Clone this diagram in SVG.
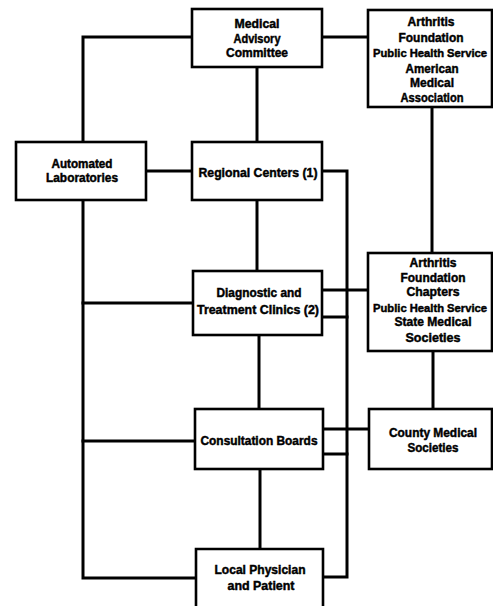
<svg xmlns="http://www.w3.org/2000/svg" width="493" height="606" viewBox="0 0 493 606">
<style>
.box{fill:#fff;stroke:#000;stroke-width:2.6}
.ln{fill:none;stroke:#000;stroke-width:3;stroke-linejoin:miter;stroke-linecap:square}
text{font-family:"Liberation Sans",Arial,sans-serif;font-weight:bold;font-size:12.5px;fill:#000;stroke:#000;stroke-width:0.45;text-anchor:middle}
text.w{font-size:11.4px}
</style>
<rect width="493" height="606" fill="#fff"/>
<g id="connectors">
<polyline class="ln" points="83,142 83,37 192,37"/>
<line class="ln" x1="322" y1="37" x2="368" y2="37"/>
<line class="ln" x1="257" y1="67" x2="257" y2="142"/>
<line class="ln" x1="146" y1="171" x2="192" y2="171"/>
<polyline class="ln" points="322,171 347,171 347,577 323,577"/>
<line class="ln" x1="432" y1="107" x2="432" y2="253"/>
<line class="ln" x1="257" y1="200" x2="257" y2="271"/>
<polyline class="ln" points="83,200 83,578 196,578"/>
<line class="ln" x1="83" y1="303" x2="193" y2="303"/>
<line class="ln" x1="83" y1="441" x2="195" y2="441"/>
<line class="ln" x1="322" y1="290" x2="368" y2="290"/>
<line class="ln" x1="322" y1="317" x2="347" y2="317"/>
<line class="ln" x1="259" y1="335" x2="259" y2="409"/>
<line class="ln" x1="433" y1="351" x2="433" y2="409"/>
<line class="ln" x1="323" y1="429" x2="369" y2="429"/>
<line class="ln" x1="323" y1="454" x2="347" y2="454"/>
<line class="ln" x1="260" y1="469" x2="260" y2="549"/>
</g>
<g id="mac">
<rect class="box" x="192" y="9" width="130" height="58"/>
<text x="257" y="28" textLength="45" lengthAdjust="spacingAndGlyphs">Medical</text>
<text x="257" y="43" textLength="47" lengthAdjust="spacingAndGlyphs">Advisory</text>
<text x="257" y="57" textLength="62" lengthAdjust="spacingAndGlyphs">Committee</text>
</g>
<g id="national">
<rect class="box" x="368" y="10" width="124" height="97"/>
<text x="431" y="26" textLength="47" lengthAdjust="spacingAndGlyphs">Arthritis</text>
<text x="431" y="42" textLength="65" lengthAdjust="spacingAndGlyphs">Foundation</text>
<text class="w" x="430" y="57" textLength="114" lengthAdjust="spacingAndGlyphs">Public Health Service</text>
<text x="432" y="73" textLength="53" lengthAdjust="spacingAndGlyphs">American</text>
<text x="432" y="87" textLength="44" lengthAdjust="spacingAndGlyphs">Medical</text>
<text x="432" y="102" textLength="63" lengthAdjust="spacingAndGlyphs">Association</text>
</g>
<g id="automated-labs">
<rect class="box" x="16" y="142" width="130" height="58"/>
<text x="82" y="168" textLength="61" lengthAdjust="spacingAndGlyphs">Automated</text>
<text x="82" y="182" textLength="72" lengthAdjust="spacingAndGlyphs">Laboratories</text>
</g>
<g id="regional-centers">
<rect class="box" x="192" y="142" width="130" height="58"/>
<text x="258" y="177" textLength="119" lengthAdjust="spacingAndGlyphs">Regional Centers (1)</text>
</g>
<g id="diagnostic">
<rect class="box" x="193" y="271" width="129" height="64"/>
<text x="259" y="297" textLength="85" lengthAdjust="spacingAndGlyphs">Diagnostic and</text>
<text x="258" y="314" textLength="122" lengthAdjust="spacingAndGlyphs">Treatment Clinics (2)</text>
</g>
<g id="chapters">
<rect class="box" x="368" y="253" width="124" height="98"/>
<text x="433" y="267" textLength="47" lengthAdjust="spacingAndGlyphs">Arthritis</text>
<text x="433" y="282" textLength="65" lengthAdjust="spacingAndGlyphs">Foundation</text>
<text x="433" y="296" textLength="53" lengthAdjust="spacingAndGlyphs">Chapters</text>
<text class="w" x="430" y="312" textLength="114" lengthAdjust="spacingAndGlyphs">Public Health Service</text>
<text x="433" y="326" textLength="77" lengthAdjust="spacingAndGlyphs">State Medical</text>
<text x="433" y="342" textLength="55" lengthAdjust="spacingAndGlyphs">Societies</text>
</g>
<g id="consultation">
<rect class="box" x="195" y="409" width="128" height="60"/>
<text x="259" y="445" textLength="117" lengthAdjust="spacingAndGlyphs">Consultation Boards</text>
</g>
<g id="county">
<rect class="box" x="369" y="409" width="123" height="60"/>
<text x="433" y="437" textLength="88" lengthAdjust="spacingAndGlyphs">County Medical</text>
<text x="433" y="452" textLength="51" lengthAdjust="spacingAndGlyphs">Societies</text>
</g>
<g id="local">
<path class="box" d="M196,607 V549 H323 V607"/>
<text x="260" y="574" textLength="91" lengthAdjust="spacingAndGlyphs">Local Physician</text>
<text x="261" y="590" textLength="67" lengthAdjust="spacingAndGlyphs">and Patient</text>
</g>
</svg>
